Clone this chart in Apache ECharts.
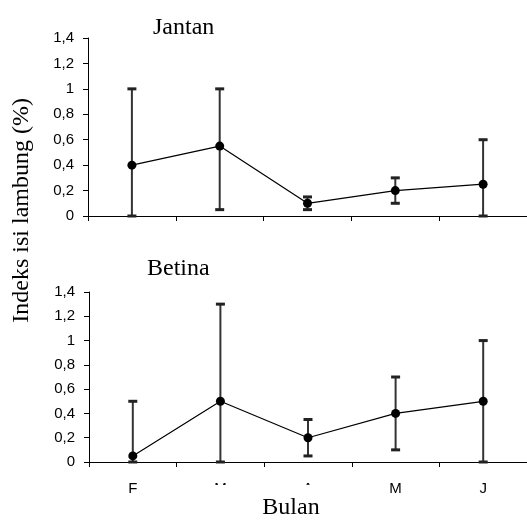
<!DOCTYPE html>
<html>
<head>
<meta charset="utf-8">
<script src="https://cdn.jsdelivr.net/npm/echarts@6/dist/echarts.min.js"></script>
<style>
  html, body { margin: 0; padding: 0; background: #fff; }
  #main { width: 527px; height: 521px; }
</style>
</head>
<body>
<div id="main"></div>
<script>
var months = ['F', 'M', 'A', 'M', 'J'];

// Jantan
var jantanMean = [0.4, 0.55, 0.1, 0.2, 0.25];
var jantanLow = [0, 0.05, 0.05, 0.1, 0];
var jantanHigh = [1.0, 1.0, 0.15, 0.3, 0.6];

// Betina
var betinaMean = [0.05, 0.5, 0.2, 0.4, 0.5];
var betinaLow = [0, 0, 0.05, 0.1, 0];
var betinaHigh = [0.5, 1.3, 0.35, 0.7, 1.0];

function errData(low, high) {
  return months.map(function (m, i) { return [i, low[i], high[i]]; });
}

function renderErr(params, api) {
  var lo = api.coord([api.value(0), api.value(1)]);
  var hi = api.coord([api.value(0), api.value(2)]);
  var w = 4.5;
  var cap = { stroke: '#222', lineWidth: 3 };
  return {
    type: 'group',
    children: [
      { type: 'line', shape: { x1: lo[0], y1: lo[1], x2: hi[0], y2: hi[1] }, style: { stroke: '#333', lineWidth: 2 } },
      { type: 'line', shape: { x1: lo[0] - w, y1: lo[1], x2: lo[0] + w, y2: lo[1] }, style: cap },
      { type: 'line', shape: { x1: hi[0] - w, y1: hi[1], x2: hi[0] + w, y2: hi[1] }, style: cap }
    ]
  };
}

function fmt(v) {
  return String(Math.round(v * 10) / 10).replace('.', ',');
}

function yAxis(idx) {
  return {
    type: 'value', gridIndex: idx, min: 0, max: 1.4, interval: 0.2,
    axisLine: { show: true, lineStyle: { color: '#000', width: 1 } },
    axisTick: { show: true, length: 5, lineStyle: { color: '#000' } },
    splitLine: { show: false },
    axisLabel: { formatter: fmt, color: '#000', fontSize: 15, fontFamily: 'Liberation Sans', margin: 14 }
  };
}

function xAxis(idx, showLabel) {
  return {
    type: 'category', gridIndex: idx, data: months, boundaryGap: true,
    axisLine: { lineStyle: { color: '#000', width: 1 } },
    axisTick: { show: true, length: 5, lineStyle: { color: '#000' } },
    axisLabel: { show: showLabel, color: '#000', fontSize: 15, fontFamily: 'Liberation Sans', margin: 19 }
  };
}

function lineSeries(idx, data) {
  return {
    type: 'line', xAxisIndex: idx, yAxisIndex: idx, data: data,
    symbol: 'circle', symbolSize: 9, z: 5,
    itemStyle: { color: '#000' },
    lineStyle: { color: '#000', width: 1.2 }
  };
}

var chart = echarts.init(document.getElementById('main'));
var serif = 'Liberation Serif';

chart.setOption({
  animation: false,
  title: [
    { text: 'Jantan', left: 148, top: 11,
      textStyle: { fontFamily: serif, fontSize: 24, fontWeight: 'normal', color: '#000' } },
    { text: 'Betina', left: 142, top: 252,
      textStyle: { fontFamily: serif, fontSize: 24, fontWeight: 'normal', color: '#000' } }
  ],
  grid: [
    { left: 88, right: 0, top: 38, height: 178 },
    { left: 89, right: 0, top: 292, height: 170 }
  ],
  xAxis: [xAxis(0, false), xAxis(1, true)],
  yAxis: [yAxis(0), yAxis(1)],
  series: [
    { type: 'custom', xAxisIndex: 0, yAxisIndex: 0, renderItem: renderErr, data: errData(jantanLow, jantanHigh), z: 2 },
    lineSeries(0, jantanMean),
    { type: 'custom', xAxisIndex: 1, yAxisIndex: 1, renderItem: renderErr, data: errData(betinaLow, betinaHigh), z: 2 },
    lineSeries(1, betinaMean)
  ],
  graphic: [
    { type: 'text', left: 10, top: 98, rotation: Math.PI / 2, z: 10,
      style: { text: 'Indeks isi lambung (%)', font: '24px "Liberation Serif"', fill: '#000' } },
    { type: 'rect', shape: { x: 200, y: 485, width: 180, height: 36 }, style: { fill: '#fff' }, z: 20 },
    { type: 'text', x: 291, y: 508, z: 21,
      style: { text: 'Bulan', font: '24px "Liberation Serif"', fill: '#000', align: 'center', verticalAlign: 'middle' } }
  ]
});
</script>
</body>
</html>
